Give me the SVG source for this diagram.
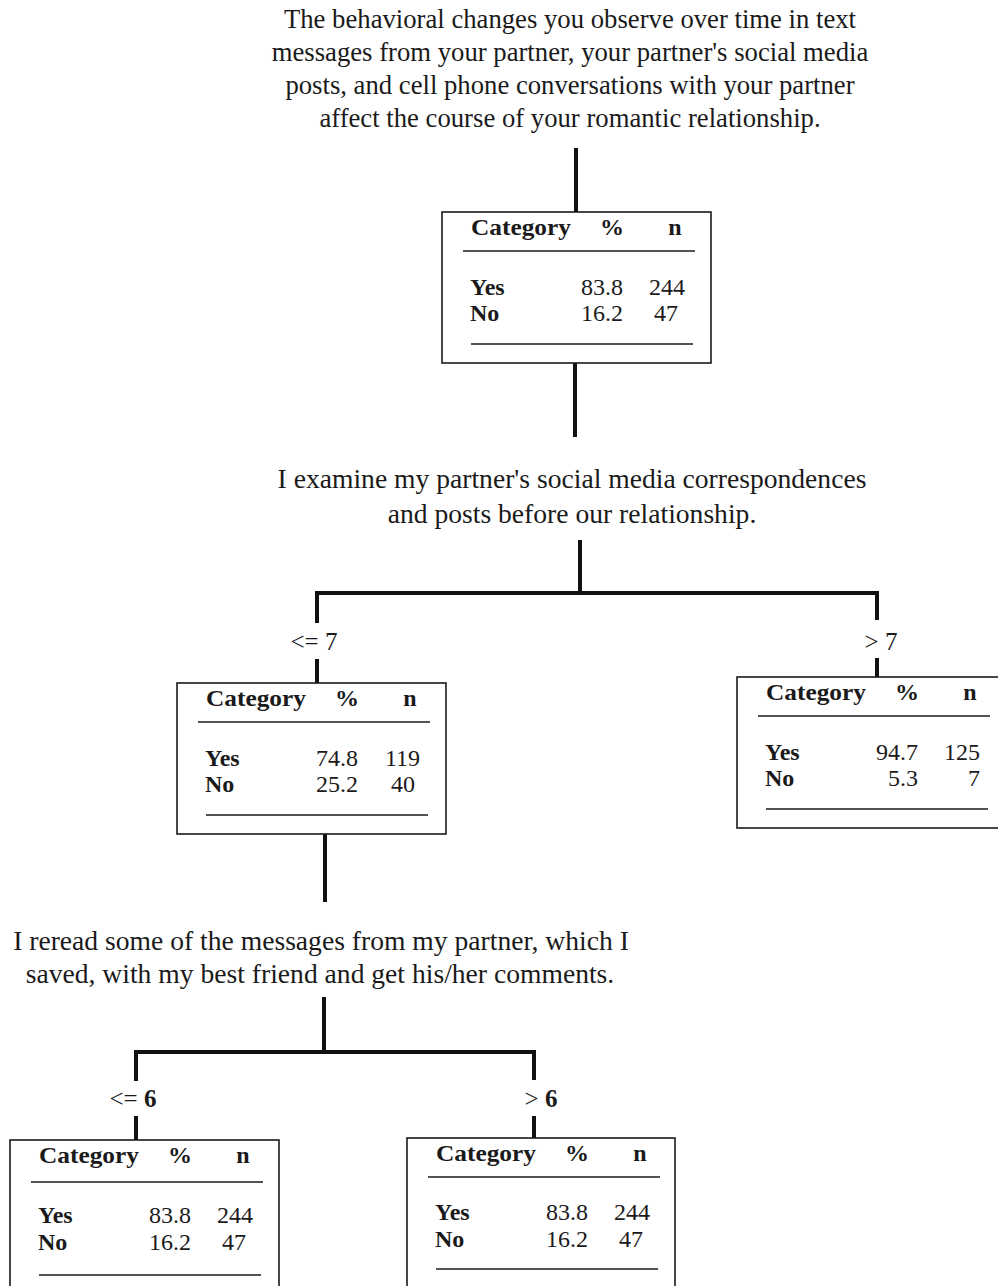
<svg xmlns="http://www.w3.org/2000/svg" width="998" height="1286" viewBox="0 0 998 1286">
<style>
text{font-family:"Liberation Serif","Times New Roman",serif;fill:#1a1a1a}
.q{font-size:26.7px;text-anchor:middle}
.q2{font-size:27.6px;text-anchor:middle}
.lbl{font-size:25px;text-anchor:middle}
.h{font-size:24px;font-weight:bold}
.v{font-size:24px;text-anchor:end}
.box{fill:#fff;stroke:#1a1a1a;stroke-width:1.6}
.rule{stroke:#1a1a1a;stroke-width:1.6}
.c{stroke:#111;stroke-width:4;fill:none}
</style>
<defs>
<g id="tbl">
<rect class="box" x="0" y="0" width="269" height="151"/>
<text class="h" x="29" y="23" textLength="100" lengthAdjust="spacingAndGlyphs">Category</text>
<text class="h" x="170" y="23" text-anchor="middle">%</text>
<text class="h" x="233" y="23" text-anchor="middle">n</text>
<line class="rule" x1="21" y1="39" x2="253" y2="39"/>
<text class="h" x="28" y="83">Yes</text>
<text class="h" x="28" y="109">No</text>
<line class="rule" x1="29" y1="132" x2="251" y2="132"/>
</g>
</defs>
<g id="q1">
<text class="q" x="570" y="28">The behavioral changes you observe over time in text</text>
<text class="q" x="570" y="61">messages from your partner, your partner's social media</text>
<text class="q" x="570" y="94">posts, and cell phone conversations with your partner</text>
<text class="q" x="570" y="127">affect the course of your romantic relationship.</text>
</g>
<g id="q2">
<text class="q2" x="572" y="488">I examine my partner's social media correspondences</text>
<text class="q2" x="572" y="523">and posts before our relationship.</text>
</g>
<g id="q3">
<text class="q2" x="321" y="950">I reread some of the messages from my partner, which I</text>
<text class="q2" x="320" y="983">saved, with my best friend and get his/her comments.</text>
</g>
<g id="connectors">
<line class="c" x1="576" y1="148" x2="576" y2="212"/>
<line class="c" x1="575" y1="362" x2="575" y2="437"/>
<line class="c" x1="580" y1="540" x2="580" y2="593"/>
<polyline class="c" points="317,623 317,593 877,593 877,620"/>
<line class="c" x1="317" y1="659" x2="317" y2="683"/>
<line class="c" x1="877" y1="658" x2="877" y2="677"/>
<line class="c" x1="325" y1="834" x2="325" y2="902"/>
<line class="c" x1="324" y1="997" x2="324" y2="1052"/>
<polyline class="c" points="136,1081 136,1052 534,1052 534,1080"/>
<line class="c" x1="136" y1="1116" x2="136" y2="1140"/>
<line class="c" x1="534" y1="1116" x2="534" y2="1138"/>
<text class="lbl" x="314" y="650">&lt;= 7</text>
<text class="lbl" x="881" y="650">&gt; 7</text>
<text class="lbl" x="133" y="1107">&lt;= <tspan font-weight="bold">6</tspan></text>
<text class="lbl" x="541" y="1107">&gt; <tspan font-weight="bold">6</tspan></text>
</g>
<g id="n1" transform="translate(442,212)">
<use href="#tbl"/>
<text class="v" x="181" y="83">83.8</text><text class="v" x="243" y="83">244</text>
<text class="v" x="181" y="109">16.2</text><text class="v" x="236" y="109">47</text>
</g>
<g id="n2" transform="translate(177,683)">
<use href="#tbl"/>
<text class="v" x="181" y="83">74.8</text><text class="v" x="243" y="83">119</text>
<text class="v" x="181" y="109">25.2</text><text class="v" x="238" y="109">40</text>
</g>
<g id="n3" transform="translate(737,677)">
<use href="#tbl"/>
<text class="v" x="181" y="83">94.7</text><text class="v" x="243" y="83">125</text>
<text class="v" x="181" y="109">5.3</text><text class="v" x="243" y="109">7</text>
</g>
<g id="n4" transform="translate(10,1140)">
<rect class="box" x="0" y="0" width="269" height="170"/>
<text class="h" x="29" y="23" textLength="100" lengthAdjust="spacingAndGlyphs">Category</text>
<text class="h" x="170" y="23" text-anchor="middle">%</text>
<text class="h" x="233" y="23" text-anchor="middle">n</text>
<line class="rule" x1="21" y1="42" x2="253" y2="42"/>
<text class="h" x="28" y="83">Yes</text>
<text class="h" x="28" y="110">No</text>
<line class="rule" x1="29" y1="135" x2="251" y2="135"/>
<text class="v" x="181" y="83">83.8</text><text class="v" x="243" y="83">244</text>
<text class="v" x="181" y="110">16.2</text><text class="v" x="236" y="110">47</text>
</g>
<g id="n5" transform="translate(407,1138)">
<rect class="box" x="0" y="0" width="268" height="170"/>
<text class="h" x="29" y="23" textLength="100" lengthAdjust="spacingAndGlyphs">Category</text>
<text class="h" x="170" y="23" text-anchor="middle">%</text>
<text class="h" x="233" y="23" text-anchor="middle">n</text>
<line class="rule" x1="21" y1="39" x2="253" y2="39"/>
<text class="h" x="28" y="82">Yes</text>
<text class="h" x="28" y="109">No</text>
<line class="rule" x1="29" y1="131" x2="251" y2="131"/>
<text class="v" x="181" y="82">83.8</text><text class="v" x="243" y="82">244</text>
<text class="v" x="181" y="109">16.2</text><text class="v" x="236" y="109">47</text>
</g>
</svg>
